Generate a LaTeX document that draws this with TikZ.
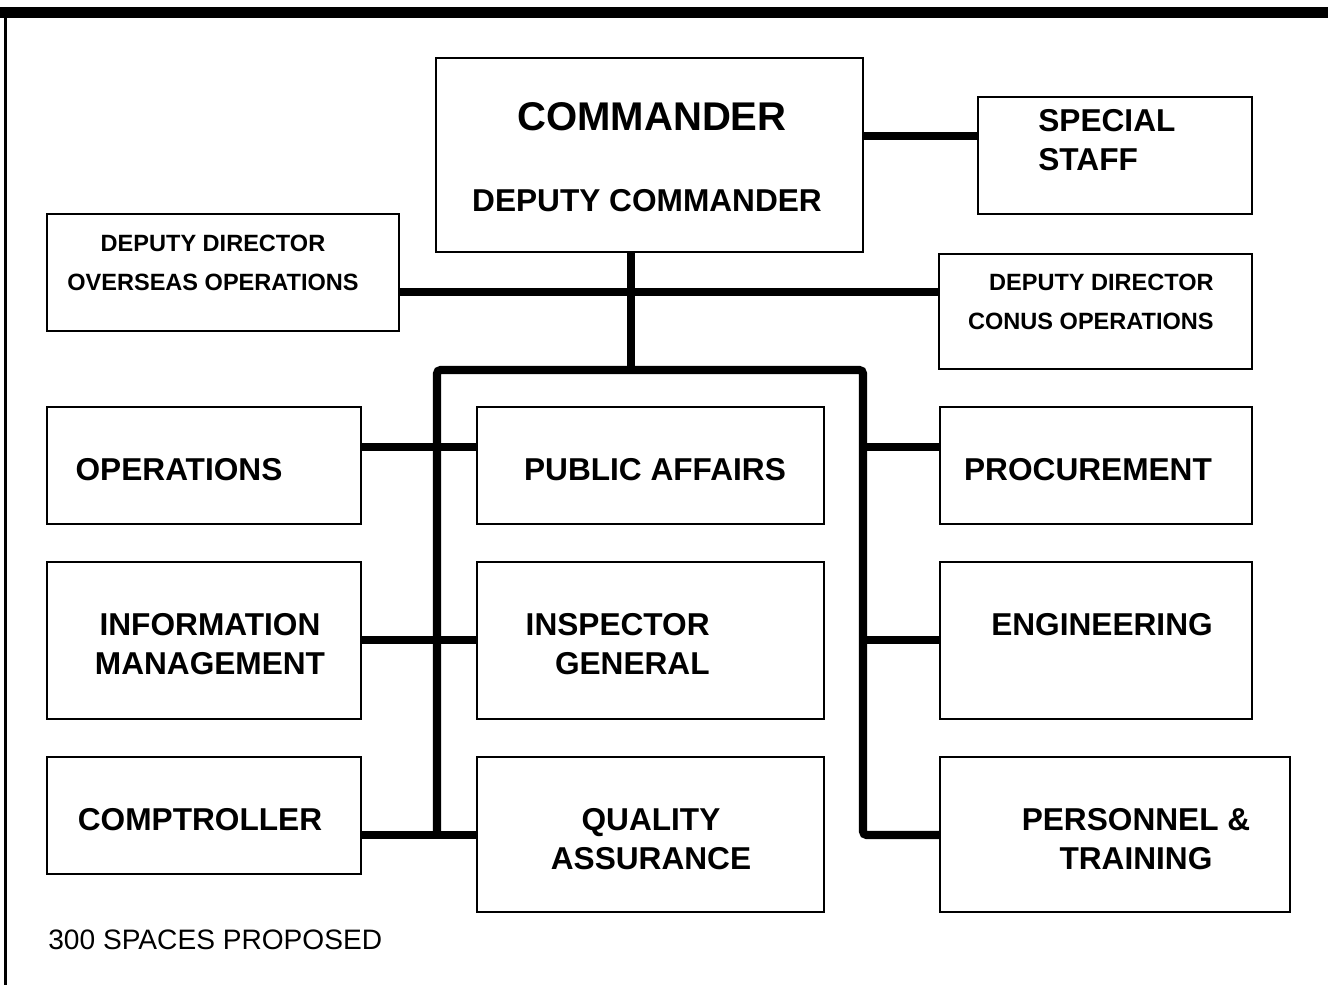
\documentclass[tikz,border=0pt]{standalone}
\usepackage{fontspec}
\setmainfont{Liberation Sans}
\usetikzlibrary{fit,calc}

\begin{document}
\begin{tikzpicture}[x=0.02cm, y=-0.02cm,
    box/.style={draw, line width=1.1pt, inner sep=0pt},
    link/.style={line width=4.6pt},
    lbl/.style={font=\bfseries\fontsize{18}{22.2}\selectfont, inner sep=0pt, align=center},
    biglbl/.style={lbl, font=\bfseries\fontsize{22.8}{27}\selectfont},
    smlbl/.style={lbl, font=\bfseries\fontsize{13.4}{22.2}\selectfont},
    note/.style={font=\fontsize{16}{19}\selectfont, inner sep=0pt, anchor=west}
]
\useasboundingbox (0,0) rectangle (1328,985);

% frame
\fill (0,7) rectangle (1328,18);
\draw[line width=0.06cm] (5.5,7) -- (5.5,985);

% boxes
\node[box, fit={(436,58) (863,252)}] (cmd) {};
\node[box, fit={(978,97) (1252,214)}] (ss) {};
\node[box, fit={(47,214) (399,331)}] (ddo) {};
\node[box, fit={(939,254) (1252,369)}] (ddc) {};

\node[box, fit={(47,407) (361,524)}] (ops) {};
\node[box, fit={(477,407) (824,524)}] (pa) {};
\node[box, fit={(940,407) (1252,524)}] (proc) {};

\node[box, fit={(47,562) (361,719)}] (im) {};
\node[box, fit={(477,562) (824,719)}] (ig) {};
\node[box, fit={(940,562) (1252,719)}] (eng) {};

\node[box, fit={(47,757) (361,874)}] (comp) {};
\node[box, fit={(477,757) (824,912)}] (qa) {};
\node[box, fit={(940,757) (1290,912)}] (pt) {};

% labels
\node[biglbl] (cmdT) at (652,117) {COMMANDER};
\node[lbl] (dcmdT) at (647,201) {DEPUTY COMMANDER};
\node[lbl, align=left, anchor=west] (ssT) at (1038,140.5) {SPECIAL\\STAFF};
\node[smlbl] (ddoT) at (213,262.5) {DEPUTY DIRECTOR\\OVERSEAS OPERATIONS};
\node[smlbl, align=right, anchor=east] (ddcT) at (1214,301.5) {DEPUTY DIRECTOR\\CONUS OPERATIONS};
\node[lbl] (opsT) at (179,470) {OPERATIONS};
\node[lbl] (paT) at (655,470) {PUBLIC AFFAIRS};
\node[lbl] (procT) at (1088,470) {PROCUREMENT};
\node[lbl] (imT) at (210,644.5) {INFORMATION\\MANAGEMENT};
\node[lbl, align=right, anchor=east] (igT) at (710,644.5) {INSPECTOR\\GENERAL};
\node[lbl] (engT) at (1102,625) {ENGINEERING};
\node[lbl] (compT) at (200,820) {COMPTROLLER};
\node[lbl] (qaT) at (651,839) {QUALITY\\ASSURANCE};
\node[lbl] (ptT) at (1136,839) {PERSONNEL \&\\TRAINING};
\node[note] (noteT) at (48,940) {300 SPACES PROPOSED};

% junctions
\coordinate (jss) at (0,136);
\coordinate (trunk) at (631,292);
\coordinate (top) at (631,370);
\coordinate (brL) at (437,370);
\coordinate (brR) at (863,370);
\coordinate (r1) at (0,447);
\coordinate (r2) at (0,640);
\coordinate (r3) at (0,835);

% connectors
\draw[link] (cmd.east |- jss) -- (ss.west |- jss);
\draw[link] (top |- cmd.south) -- (top);
\draw[link] (ddo.east |- trunk) -- (ddc.west |- trunk);
\draw[link, rounded corners=2pt] (pt.west |- r3) -- (brR |- r3) -- (brR) -- (brL) -- (brL |- r3);
\draw[link] (ops.east |- r1) -- (pa.west |- r1);
\draw[link] (im.east |- r2) -- (ig.west |- r2);
\draw[link] (comp.east |- r3) -- (qa.west |- r3);
\draw[link] (brR |- r1) -- (proc.west |- r1);
\draw[link] (brR |- r2) -- (eng.west |- r2);

\end{tikzpicture}
\end{document}
